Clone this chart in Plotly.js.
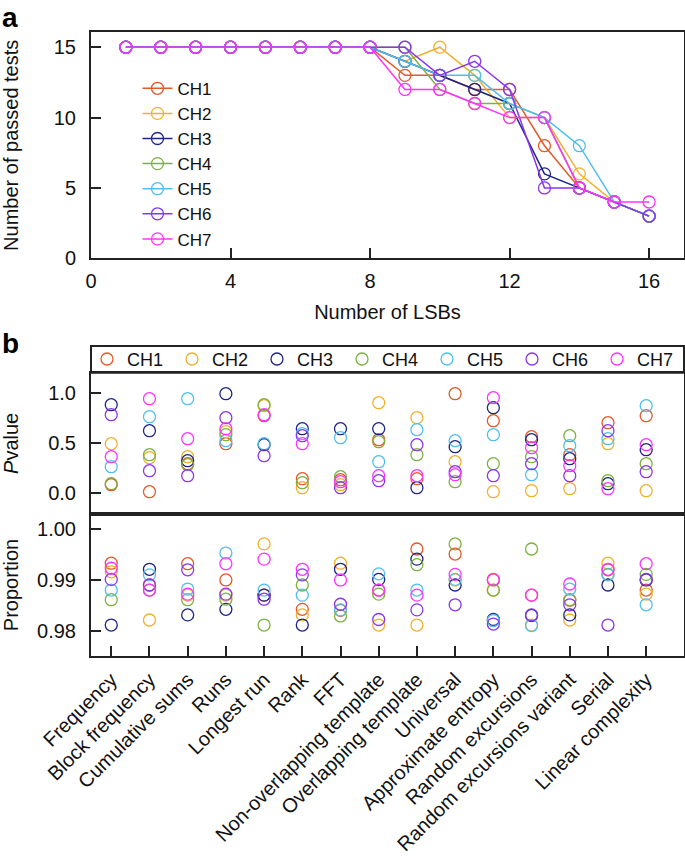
<!DOCTYPE html>
<html>
<head>
<meta charset="utf-8">
<script src="https://cdn.plot.ly/plotly-3.0.1.min.js"></script>
<style>html,body{margin:0;padding:0;background:#fff;}#chart{width:685px;height:868px;}</style>
</head>
<body>
<div id="chart"></div>
<script>
// ---------- Panel a data ----------
const lsbs = [1,2,3,4,5,6,7,8,9,10,11,12,13,14,15,16];
const passCH1 = [15,15,15,15,15,15,15,15,13,13,12,12,8,5,4,3];
const passCH2 = [15,15,15,15,15,15,15,15,14,15,13,10,10,6,4,3];
const passCH3 = [15,15,15,15,15,15,15,15,14,13,12,11,6,5,4,3];
const passCH4 = [15,15,15,15,15,15,15,15,15,12,11,11,10,5,4,3];
const passCH5 = [15,15,15,15,15,15,15,15,14,13,13,11,10,8,4,3];
const passCH6 = [15,15,15,15,15,15,15,15,15,13,14,12,5,5,4,3];
const passCH7 = [15,15,15,15,15,15,15,15,12,12,11,10,10,5,4,4];

// ---------- Panel b data ----------
const tests = ["Frequency","Block frequency","Cumulative sums","Runs","Longest run","Rank","FFT",
  "Non-overlapping template","Overlapping template","Universal","Approximate entropy",
  "Random excursions","Random excursions variant","Serial","Linear complexity"];

const pCH1 = [0.08,0.01,0.29,0.49,0.77,0.14,0.13,0.53,0.14,0.99,0.72,0.56,0.38,0.70,0.77];
const pCH2 = [0.49,0.35,0.36,0.61,0.87,0.05,0.08,0.90,0.75,0.31,0.01,0.02,0.04,0.49,0.02];
const pCH3 = [0.88,0.62,0.32,0.99,0.48,0.64,0.64,0.64,0.05,0.46,0.85,0.53,0.34,0.09,0.43];
const pCH4 = [0.09,0.38,0.28,0.58,0.88,0.10,0.16,0.51,0.38,0.11,0.29,0.36,0.57,0.12,0.29];
const pCH5 = [0.26,0.76,0.94,0.52,0.49,0.59,0.55,0.31,0.63,0.52,0.58,0.18,0.47,0.54,0.87];
const pCH6 = [0.78,0.22,0.17,0.75,0.37,0.57,0.05,0.12,0.48,0.21,0.17,0.29,0.17,0.62,0.21];
const pCH7 = [0.36,0.94,0.54,0.64,0.78,0.49,0.11,0.17,0.17,0.18,0.95,0.45,0.27,0.04,0.48];

const propCH1 = [0.9933,0.9890,0.9932,0.9900,0.9870,0.9842,0.9840,0.9880,0.9961,0.9951,0.9900,0.9870,0.9860,0.9920,0.9880];
const propCH2 = [0.9916,0.9821,0.9870,0.9870,0.9971,0.9831,0.9933,0.9811,0.9811,0.9900,0.9880,0.9811,0.9821,0.9933,0.9872];
const propCH3 = [0.9811,0.9921,0.9831,0.9842,0.9870,0.9811,0.9921,0.9901,0.9941,0.9890,0.9822,0.9830,0.9831,0.9890,0.9900];
const propCH4 = [0.9861,0.9880,0.9861,0.9862,0.9811,0.9890,0.9829,0.9872,0.9930,0.9971,0.9880,0.9961,0.9861,0.9911,0.9911];
const propCH5 = [0.9880,0.9910,0.9882,0.9953,0.9880,0.9870,0.9841,0.9912,0.9880,0.9901,0.9820,0.9810,0.9882,0.9910,0.9851];
const propCH6 = [0.9901,0.9890,0.9920,0.9872,0.9862,0.9910,0.9852,0.9822,0.9841,0.9851,0.9813,0.9831,0.9851,0.9811,0.9901];
const propCH7 = [0.9923,0.9880,0.9872,0.9932,0.9941,0.9921,0.9900,0.9880,0.9870,0.9911,0.9901,0.9870,0.9892,0.9921,0.9932];

const names = ["CH1","CH2","CH3","CH4","CH5","CH6","CH7"];
const colors = ["#E2592A","#F0B12E","#1E2585","#7BB23F","#50BFEE","#8A36EE","#FF33FF"];
const passAll = [passCH1,passCH2,passCH3,passCH4,passCH5,passCH6,passCH7];
const pAll = [pCH1,pCH2,pCH3,pCH4,pCH5,pCH6,pCH7];
const propAll = [propCH1,propCH2,propCH3,propCH4,propCH5,propCH6,propCH7];

// ---------- geometry helpers (pixels -> paper) ----------
const W = 685, H = 868;
const px = v => v / W;
const py = v => 1 - v / H;

const FONT = "Liberation Sans, Arial, Helvetica, sans-serif";
const INK = "#222";

const traces = [];
names.forEach((n, i) => {
  traces.push({
    x: lsbs, y: passAll[i], name: n, type: "scatter", mode: "lines+markers",
    line: {color: colors[i], width: 1.5},
    marker: {symbol: "circle-open", size: 12, color: colors[i], line: {width: 1.3, color: colors[i]}},
    xaxis: "x", yaxis: "y", legend: "legend", showlegend: true
  });
});
names.forEach((n, i) => {
  traces.push({
    x: tests, y: pAll[i], name: n, type: "scatter", mode: "markers",
    marker: {symbol: "circle-open", size: 12, color: colors[i], line: {width: 1.3, color: colors[i]}},
    xaxis: "x2", yaxis: "y2", legend: "legend2", showlegend: true
  });
});
names.forEach((n, i) => {
  traces.push({
    x: tests, y: propAll[i], name: n, type: "scatter", mode: "markers",
    marker: {symbol: "circle-open", size: 12, color: colors[i], line: {width: 1.3, color: colors[i]}},
    xaxis: "x3", yaxis: "y3", legend: "legend2", showlegend: false
  });
});

const axisBase = {
  showgrid: false, zeroline: false, showline: true, mirror: true,
  linecolor: INK, linewidth: 2, ticks: "inside", ticklen: 10, tickwidth: 2, tickcolor: INK,
  tickfont: {family: FONT, size: 20, color: "#111"}
};

const layout = {
  width: W, height: H, autosize: false,
  margin: {l: 0, r: 0, t: 0, b: 0, autoexpand: false},
  paper_bgcolor: "#fff", plot_bgcolor: "#fff",
  font: {family: FONT, size: 20, color: "#111"},
  xaxis: Object.assign({}, axisBase, {
    domain: [px(91), px(684)], range: [0, 17], tickvals: [0,4,8,12,16],
    anchor: "y", ticklabelstandoff: 4,
    title: {text: "Number of LSBs", font: {family: FONT, size: 20, color: "#111"}, standoff: 14}
  }),
  yaxis: Object.assign({}, axisBase, {
    domain: [py(258.3), py(32.3)], range: [0, 16.06], tickvals: [0,5,10,15],
    anchor: "x", ticklabelstandoff: 9,
    title: {text: "Number of passed tests", font: {family: FONT, size: 20, color: "#111"}, standoff: 30}
  }),
  xaxis2: Object.assign({}, axisBase, {
    domain: [px(91), px(684)], range: [-0.53, 14.99], type: "category",
    anchor: "y2", ticks: "", showticklabels: false
  }),
  yaxis2: Object.assign({}, axisBase, {
    domain: [py(514), py(372.7)], range: [-0.213, 1.2], tickvals: [0, 0.5, 1.0],
    ticktext: ["0.0","0.5","1.0"], anchor: "x2", ticklabelstandoff: 9,
    title: {text: "<i>P</i>value", font: {family: FONT, size: 20, color: "#111"}, standoff: 32}
  }),
  xaxis3: Object.assign({}, axisBase, {
    domain: [px(91), px(684)], range: [-0.53, 14.99], type: "category",
    anchor: "y3", tickangle: -45, ticklabelstandoff: 2
  }),
  yaxis3: Object.assign({}, axisBase, {
    domain: [py(656), py(514)], range: [0.975, 1.003], tickvals: [0.98, 0.99, 1.00],
    ticktext: ["0.98","0.99","1.00"], anchor: "x3", ticklabelstandoff: 9,
    title: {text: "Proportion", font: {family: FONT, size: 20, color: "#111"}, standoff: 20}
  }),
  legend: {
    x: px(158), y: py(74), xanchor: "left", yanchor: "top",
    bgcolor: "rgba(0,0,0,0)", borderwidth: 0, tracegroupgap: 0,
    font: {family: FONT, size: 17, color: "#111"}
  },
  legend2: {
    orientation: "h", x: px(88), y: py(359.5), xanchor: "left", yanchor: "middle",
    entrywidth: 40, entrywidthmode: "pixels",
    bgcolor: "rgba(0,0,0,0)", borderwidth: 0,
    font: {family: FONT, size: 18, color: "#111"}
  },
  shapes: [
    {type: "rect", xref: "paper", yref: "paper",
     x0: px(91), x1: px(684), y0: py(372.7), y1: py(346),
     line: {color: INK, width: 2}, fillcolor: "rgba(0,0,0,0)"}
  ],
  annotations: [
    {text: "<b>a</b>", xref: "paper", yref: "paper", x: px(0), y: py(17), xanchor: "left", yanchor: "middle",
     showarrow: false, font: {family: FONT, size: 28, color: "#000"}},
    {text: "<b>b</b>", xref: "paper", yref: "paper", x: px(0), y: py(343), xanchor: "left", yanchor: "middle",
     showarrow: false, font: {family: FONT, size: 28, color: "#000"}}
  ]
};

// target pixel centres of the first legend symbol in each legend
const legendTargets = {legend: [157.5, 88.3], legend2: [107, 359]};

function placeLegends(gd) {
  const upd = {};
  Object.keys(legendTargets).forEach(id => {
    const g = document.querySelector("g." + id);
    if (!g) return;
    const p = g.querySelector(".legendpoints path");
    if (!p) return;
    const r = p.getBoundingClientRect();
    const b = g.getBoundingClientRect();
    const lo = gd._fullLayout[id];
    const cx = r.left + r.width / 2, cy = r.top + r.height / 2;
    const eff = lo.x > 0 ? b.left / lo.x : W;
    const dx = legendTargets[id][0] - cx, dy = legendTargets[id][1] - cy;
    upd[id + ".x"] = (b.left + dx) / (eff > 0 ? eff : W);
    upd[id + ".y"] = lo.y - dy / H;
  });
  return Plotly.relayout(gd, upd);
}

Plotly.newPlot("chart", traces, layout, {displayModeBar: false, staticPlot: true})
  .then(placeLegends);
</script>
</body>
</html>
